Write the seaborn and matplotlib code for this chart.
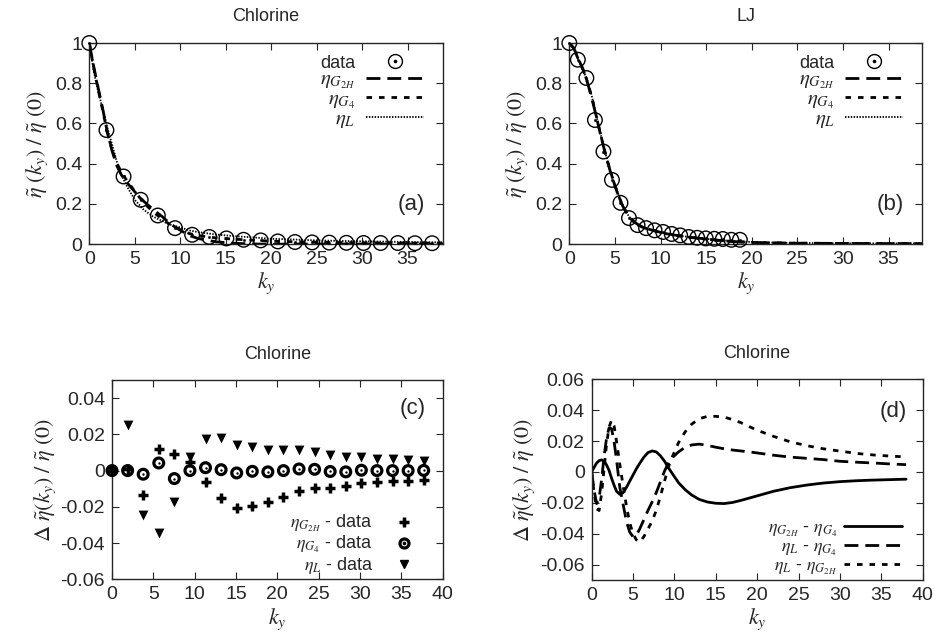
import numpy as np
import matplotlib
matplotlib.use("Agg")
import matplotlib.pyplot as plt
import seaborn as sns
from matplotlib.lines import Line2D
from matplotlib.ticker import FormatStrFormatter, MultipleLocator

# ---- (a) Chlorine: data and fits
k_cl = [0, 1.885, 3.77, 5.655, 7.54, 9.425, 11.31, 13.195, 15.08, 16.965, 18.85,
        20.735, 22.62, 24.505, 26.39, 28.275, 30.16, 32.045, 33.93, 35.815, 37.7]
eta_cl = [1.0, 0.567, 0.336, 0.220, 0.142, 0.079, 0.046, 0.035, 0.028, 0.021, 0.018,
          0.013, 0.010, 0.008, 0.007, 0.006, 0.005, 0.005, 0.005, 0.004, 0.004]

k_cl_fit = [0, 0.5, 1, 1.5, 2, 2.5, 3, 3.5, 4, 5, 6, 7, 8, 9, 10, 11, 12, 14, 16, 18,
            20, 22, 25, 28, 31, 34, 37, 38.9]
cl_g2h = [1.0, 0.88, 0.772, 0.667, 0.552, 0.464, 0.392, 0.346, 0.313, 0.26, 0.212, 0.173,
          0.137, 0.097, 0.069, 0.042, 0.027, 0.0105, 0.0035, 0.0005, -0.0015, 0.0, 0.0,
          0.0, 0.0, 0.0, 0.0, 0.0]
cl_g4 = [1.0, 0.875, 0.765, 0.66, 0.55, 0.47, 0.405, 0.36, 0.325, 0.262, 0.205, 0.16,
         0.125, 0.092, 0.072, 0.052, 0.042, 0.030, 0.024, 0.019, 0.014, 0.012, 0.009,
         0.007, 0.006, 0.005, 0.004, 0.004]
cl_l = [1.0, 0.857, 0.752, 0.67, 0.577, 0.496, 0.413, 0.348, 0.298, 0.22, 0.17, 0.137,
        0.115, 0.095, 0.083, 0.0675, 0.059, 0.047, 0.039, 0.033, 0.026, 0.023, 0.018,
        0.015, 0.013, 0.011, 0.009, 0.0085]

# ---- (b) LJ: data and fits
k_lj = [0, 0.935, 1.87, 2.805, 3.74, 4.675, 5.61, 6.545, 7.48, 8.415, 9.35, 10.285,
        11.22, 12.155, 13.09, 14.025, 14.96, 15.895, 16.83, 17.765, 18.7]
eta_lj = [1.0, 0.917, 0.826, 0.617, 0.46, 0.319, 0.205, 0.129, 0.094, 0.079, 0.068,
          0.060, 0.050, 0.043, 0.035, 0.031, 0.028, 0.026, 0.025, 0.021, 0.021]

k_lj_fit = [0, 0.5, 1, 1.5, 2, 2.5, 3, 3.5, 4, 4.5, 5, 5.5, 6, 6.5, 7, 7.5, 8, 9, 10,
            11, 12, 14, 16, 18, 20, 22, 25, 30, 35, 38.7]
lj_g2h = [1.0, 0.975, 0.92, 0.87, 0.80, 0.72, 0.625, 0.53, 0.44, 0.36, 0.29, 0.225,
          0.175, 0.14, 0.115, 0.098, 0.085, 0.07, 0.058, 0.049, 0.041, 0.03, 0.02,
          0.012, 0.008, 0.006, 0.004, 0.003, 0.002, 0.002]
lj_g4 = [1.0, 0.972, 0.918, 0.868, 0.805, 0.725, 0.628, 0.532, 0.442, 0.362, 0.292,
         0.228, 0.178, 0.14, 0.113, 0.097, 0.084, 0.069, 0.057, 0.048, 0.040, 0.029,
         0.019, 0.012, 0.008, 0.006, 0.004, 0.003, 0.002, 0.002]
lj_l = [1.0, 0.968, 0.915, 0.865, 0.81, 0.73, 0.632, 0.535, 0.445, 0.365, 0.295, 0.232,
        0.18, 0.14, 0.112, 0.096, 0.083, 0.069, 0.058, 0.049, 0.041, 0.031, 0.021,
        0.014, 0.010, 0.007, 0.005, 0.004, 0.003, 0.003]

# ---- (c) Chlorine: fit - data
g2h_minus_data = [0, 0.001, -0.0135, 0.012, 0.0093, 0.005, -0.0062, -0.0153, -0.0207,
                  -0.0196, -0.0176, -0.0144, -0.011, -0.0095, -0.0095, -0.0084, -0.0067,
                  -0.0065, -0.0058, -0.0056, -0.0053]
g4_minus_data = [0, 0, -0.002, 0.0042, -0.0044, 0, 0.0016, 0.0005, -0.0013, -0.0004,
                 -0.0007, 0, 0.0009, 0.0007, -0.0005, -0.0007, 0.0002, 0, 0, 0, 0.0001]
l_minus_data = [0, 0.025, -0.0244, -0.0344, -0.0176, 0.0075, 0.0175, 0.0178, 0.0142,
                0.0129, 0.0115, 0.0111, 0.0111, 0.0102, 0.0084, 0.0075, 0.0075, 0.0065,
                0.0062, 0.0056, 0.0051]

# ---- (d) Chlorine: fit - fit
k_d = [0, 0.3, 0.6, 0.9, 1.2, 1.5, 1.8, 2.1, 2.4, 2.7, 3.0, 3.4, 3.8, 4.2, 4.6, 5.0,
       5.4, 5.8, 6.3, 6.8, 7.3, 7.8, 8.3, 8.8, 9.3, 9.8, 10.5, 11.3, 12.1, 13, 14, 15,
       16, 17, 18, 19, 20, 22, 24, 26, 28, 30, 32, 34, 36, 38]
g2h_minus_g4 = [0, 0.003, 0.0058, 0.0073, 0.0078, 0.0070, 0.0045, 0.001, -0.004, -0.0085,
                -0.0125, -0.0145, -0.0135, -0.010, -0.006, -0.002, 0.002, 0.0055, 0.0095,
                0.0125, 0.0136, 0.013, 0.0105, 0.007, 0.0025, -0.0015, -0.007, -0.0115,
                -0.015, -0.0178, -0.0195, -0.0203, -0.0205, -0.0198, -0.0185, -0.017,
                -0.0155, -0.0125, -0.0102, -0.0085, -0.0072, -0.0063, -0.0057, -0.0053,
                -0.005, -0.0047]
l_minus_g4 = [0, -0.012, -0.0205, -0.017, -0.005, 0.010, 0.022, 0.0285, 0.028, 0.020,
              0.008, -0.010, -0.021, -0.032, -0.039, -0.042, -0.041, -0.037, -0.031,
              -0.025, -0.0195, -0.0135, -0.0065, 0.0005, 0.006, 0.0095, 0.013, 0.016,
              0.0175, 0.018, 0.0172, 0.016, 0.015, 0.0142, 0.0136, 0.013, 0.0123, 0.0108,
              0.0096, 0.0088, 0.008, 0.0069, 0.0063, 0.0058, 0.0052, 0.0047]
l_minus_g2h = [0, -0.014, -0.024, -0.025, -0.014, 0.002, 0.018, 0.029, 0.0335, 0.030,
               0.020, 0.005, -0.009, -0.022, -0.033, -0.040, -0.044, -0.0455, -0.042,
               -0.037, -0.032, -0.025, -0.016, -0.006, 0.0035, 0.0105, 0.019, 0.026,
               0.031, 0.0345, 0.036, 0.036, 0.0355, 0.034, 0.032, 0.0295, 0.027, 0.023,
               0.0195, 0.017, 0.015, 0.0135, 0.012, 0.011, 0.0103, 0.0097]

sns.set_style("ticks")
plt.rcParams["font.family"] = ["Liberation Sans", "DejaVu Sans"]
plt.rcParams["mathtext.fontset"] = "stix"
plt.rcParams["axes.unicode_minus"] = False
plt.rcParams["axes.linewidth"] = 1.0

fig = plt.figure(figsize=(9.35, 6.43), dpi=100)
ax_a = fig.add_axes([0.0955, 0.6205, 0.3783, 0.3126])
ax_b = fig.add_axes([0.6089, 0.6205, 0.3775, 0.3126])
ax_c = fig.add_axes([0.1198, 0.0991, 0.3537, 0.3099])
ax_d = fig.add_axes([0.6328, 0.0980, 0.3540, 0.3121])

ylab_top = r"$\tilde{\eta}\ (k_y)\ /\ \tilde{\eta}\ \mathit{(0)}$"
ylab_bot = r"$\Delta\ \tilde{\eta}(k_y)\ /\ \tilde{\eta}\ \mathit{(0)}$"

DASH = (0, (5, 2.5))
DOT = (0, (2, 2.5))
FINE = (0, (0.8, 0.8))


def style_axes(ax, title, tag, tag_xy, pad):
    ax.set_title(title, fontsize=13, pad=pad)
    ax.set_xlabel(r"$k_y$", fontsize=16, labelpad=2)
    ax.tick_params(direction="in", top=True, right=True, length=5, width=0.8,
                   labelsize=14, pad=5)
    ax.text(tag_xy[0], tag_xy[1], tag, transform=ax.transAxes, fontsize=16,
            ha="center", va="center")


def align_legend_right(leg):
    for col in leg._legend_handle_box.get_children():
        col.align = "right"


def top_panel(ax, k_dat, y_dat, k_fit, f1, f2, f3, title, tag, xmax):
    sns.lineplot(x=k_fit, y=f1, ax=ax, color="black", lw=2.0, linestyle=DASH)
    sns.lineplot(x=k_fit, y=f2, ax=ax, color="black", lw=2.0, linestyle=DOT)
    sns.lineplot(x=k_fit, y=f3, ax=ax, color="black", lw=1.3, linestyle=FINE)
    sns.scatterplot(x=k_dat, y=y_dat, ax=ax, marker="o", s=110, facecolors="none",
                    edgecolor="black", linewidth=1.0, zorder=5, clip_on=False)
    sns.scatterplot(x=k_dat, y=y_dat, ax=ax, marker="o", s=3, color="black",
                    edgecolor="black", linewidth=0.3, zorder=6, clip_on=False)
    ax.set_xlim(0, xmax)
    ax.set_ylim(0, 1)
    ax.xaxis.set_major_locator(MultipleLocator(5))
    ax.yaxis.set_major_locator(MultipleLocator(0.2))
    ax.yaxis.set_major_formatter(FormatStrFormatter("%g"))
    ax.set_ylabel(ylab_top, fontsize=16, labelpad=4)
    style_axes(ax, title, tag, (0.91, 0.195), 16)
    h_data = (Line2D([], [], ls="none", marker="o", ms=10, mfc="none", mec="black", mew=1.0),
              Line2D([], [], ls="none", marker="o", ms=1.6, color="black"))
    handles = [h_data,
               Line2D([], [], color="black", lw=2.0, linestyle=DASH),
               Line2D([], [], color="black", lw=2.0, linestyle=DOT),
               Line2D([], [], color="black", lw=1.3, linestyle=FINE)]
    labels = ["data", r"$\eta_{G_{2H}}$", r"$\eta_{G_4}$", r"$\eta_L$"]
    leg = ax.legend(handles, labels, loc="upper right", bbox_to_anchor=(0.97, 0.99),
                    frameon=False, markerfirst=False, fontsize=15, handlelength=2.8,
                    handletextpad=0.5, labelspacing=-0.1, borderaxespad=0.0)
    leg.get_texts()[0].set_fontsize(13)
    align_legend_right(leg)


top_panel(ax_a, k_cl, eta_cl, k_cl_fit, cl_g2h, cl_g4, cl_l, "Chlorine", "(a)", 38.9)
top_panel(ax_b, k_lj, eta_lj, k_lj_fit, lj_g2h, lj_g4, lj_l, "LJ", "(b)", 38.7)

# ---- (c)
ax = ax_c
sns.scatterplot(x=k_cl, y=g2h_minus_data, ax=ax, marker="+", s=60, color="black",
                linewidth=2.5, zorder=5, clip_on=False)
sns.scatterplot(x=k_cl, y=g4_minus_data, ax=ax, marker="o", s=50, facecolors="none",
                edgecolor="black", linewidth=2.3, zorder=5, clip_on=False)
sns.scatterplot(x=k_cl, y=g4_minus_data, ax=ax, marker="o", s=3, color="black",
                linewidth=0, zorder=6, clip_on=False)
sns.scatterplot(x=k_cl, y=l_minus_data, ax=ax, marker="v", s=50, color="black",
                linewidth=0, zorder=5, clip_on=False)
ax.set_xlim(0, 40)
ax.set_ylim(-0.06, 0.05)
ax.xaxis.set_major_locator(MultipleLocator(5))
ax.set_yticks([-0.06, -0.04, -0.02, 0, 0.02, 0.04])
ax.yaxis.set_major_formatter(FormatStrFormatter("%g"))
ax.set_ylabel(ylab_bot, fontsize=16, labelpad=2)
style_axes(ax, "Chlorine", "(c)", (0.91, 0.858), 15)
h_plus = Line2D([], [], ls="none", marker="+", ms=7, mew=2.5, color="black")
h_ring = (Line2D([], [], ls="none", marker="o", ms=6.5, mfc="none", mec="black", mew=2.3),
          Line2D([], [], ls="none", marker="o", ms=1.6, color="black"))
h_tri = Line2D([], [], ls="none", marker="v", ms=5.5, color="black")
leg = ax.legend([h_plus, h_ring, h_tri],
                [r"$\eta_{G_{2H}}$ - data", r"$\eta_{G_4}$ - data", r"$\eta_L$ - data"],
                loc="lower right", bbox_to_anchor=(0.98, -0.02), frameon=False,
                markerfirst=False, fontsize=13, handlelength=2.8, handletextpad=0.3,
                labelspacing=0.0, borderaxespad=0.0)
align_legend_right(leg)

# ---- (d)
ax = ax_d
sns.lineplot(x=k_d, y=g2h_minus_g4, ax=ax, color="black", lw=2.0, linestyle="-")
sns.lineplot(x=k_d, y=l_minus_g4, ax=ax, color="black", lw=2.0, linestyle=DASH)
sns.lineplot(x=k_d, y=l_minus_g2h, ax=ax, color="black", lw=2.0, linestyle=DOT)
ax.set_xlim(0, 40)
ax.set_ylim(-0.07, 0.06)
ax.xaxis.set_major_locator(MultipleLocator(5))
ax.set_yticks([-0.06, -0.04, -0.02, 0, 0.02, 0.04, 0.06])
ax.yaxis.set_major_formatter(FormatStrFormatter("%g"))
ax.set_ylabel(ylab_bot, fontsize=16, labelpad=2)
style_axes(ax, "Chlorine", "(d)", (0.91, 0.839), 15)
leg = ax.legend([Line2D([], [], color="black", lw=2.0, ls="-"),
                 Line2D([], [], color="black", lw=2.0, linestyle=DASH),
                 Line2D([], [], color="black", lw=2.0, linestyle=DOT)],
                [r"$\eta_{G_{2H}}$ - $\eta_{G_4}$", r"$\eta_L$ - $\eta_{G_4}$",
                 r"$\eta_L$ - $\eta_{G_{2H}}$"],
                loc="lower right", bbox_to_anchor=(0.96, -0.02), frameon=False,
                markerfirst=False, fontsize=13, handlelength=3.2, handletextpad=0.4,
                labelspacing=0.0, borderaxespad=0.0)
align_legend_right(leg)

fig.savefig("out.png", dpi=100)
